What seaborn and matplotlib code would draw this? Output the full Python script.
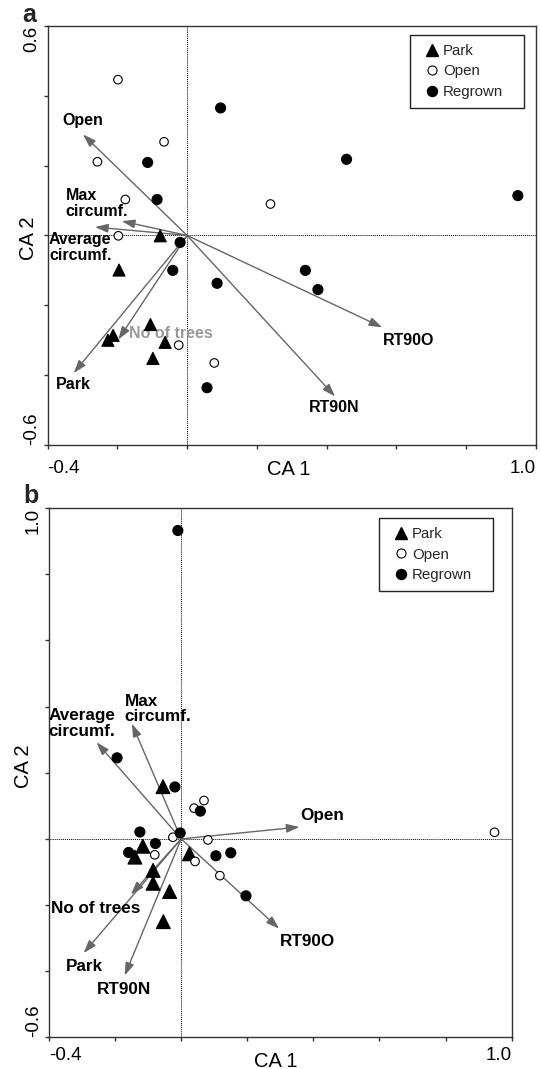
import numpy as np
import pandas as pd
import seaborn as sns
import matplotlib
matplotlib.use("Agg")
import matplotlib.pyplot as plt
from matplotlib.lines import Line2D

# ---- panel a: site scores
a_park_x = [-0.077, -0.195, -0.105, -0.212, -0.227, -0.063, -0.098]
a_park_y = [-0.001, -0.099, -0.255, -0.286, -0.300, -0.306, -0.352]
a_open_x = [-0.198, -0.066, -0.257, -0.177, -0.197, 0.239, -0.024, 0.078]
a_open_y = [0.446, 0.268, 0.211, 0.103, -0.001, 0.090, -0.314, -0.365]
a_regrown_x = [0.096, -0.113, -0.086, 0.457, 0.948, -0.020, -0.041, 0.086, 0.339, 0.375, 0.057]
a_regrown_y = [0.365, 0.209, 0.103, 0.218, 0.114, -0.020, -0.100, -0.137, -0.100, -0.155, -0.436]

# ---- panel a: variable vectors
a_vars = ["Open", "Max\ncircumf.", "Average\ncircumf.", "Park", "No of trees", "RT90O", "RT90N"]
a_vec_x = [-0.298, -0.187, -0.264, -0.325, -0.197, 0.559, 0.424]
a_vec_y = [0.289, 0.041, 0.024, -0.394, -0.298, -0.263, -0.461]
a_lab_x = [-0.357, -0.348, -0.396, -0.375, -0.166, 0.562, 0.348]
a_lab_y = [0.328, 0.092, -0.035, -0.426, -0.281, -0.300, -0.493]

# ---- panel b: site scores
b_park_x = [-0.055, -0.116, -0.140, 0.025, -0.085, -0.085, -0.035, -0.054]
b_park_y = [0.158, -0.022, -0.055, -0.045, -0.095, -0.134, -0.159, -0.250]
b_open_x = [0.948, 0.039, 0.069, -0.025, 0.081, -0.080, 0.042, 0.117]
b_open_y = [0.020, 0.093, 0.116, 0.005, -0.003, -0.048, -0.068, -0.111]
b_regrown_x = [-0.010, -0.194, -0.019, 0.058, -0.003, -0.125, -0.078, -0.159, 0.105, 0.150, 0.196]
b_regrown_y = [0.932, 0.245, 0.157, 0.084, 0.018, 0.021, -0.014, -0.041, -0.051, -0.042, -0.172]

# ---- panel b: variable vectors
b_vars = ["Average\ncircumf.", "Max\ncircumf.", "Open", "No of trees", "Park", "RT90N", "RT90O"]
b_vec_x = [-0.256, -0.149, 0.358, -0.152, -0.295, -0.171, 0.296]
b_vec_y = [0.292, 0.348, 0.036, -0.168, -0.345, -0.413, -0.271]
b_lab_x = [-0.402, -0.171, 0.360, -0.395, -0.350, -0.256, 0.298]
b_lab_y = [0.349, 0.393, 0.070, -0.211, -0.386, -0.454, -0.310]

sites = ["Park", "Open", "Regrown"]


def site_frame(park_x, park_y, open_x, open_y, reg_x, reg_y):
    return pd.DataFrame({
        "CA1": park_x + open_x + reg_x,
        "CA2": park_y + open_y + reg_y,
        "site": ["Park"] * len(park_x) + ["Open"] * len(open_x) + ["Regrown"] * len(reg_x),
    })


sns.set_theme(style="white")
plt.rcParams["font.family"] = ["Liberation Sans", "DejaVu Sans"]

fig = plt.figure(figsize=(5.4, 10.69), dpi=100)
ax_a = fig.add_axes([0.0880, 0.5837, 0.9046, 0.3921])
ax_b = fig.add_axes([0.0907, 0.0295, 0.8569, 0.4953])

GREY = "#666666"


def draw_panel(ax, df, names, vx, vy, lx, ly, lab_colors, lab_size, tri_size,
               ylim, yticklabels, leg_box, xpad, xlab_pos, ylab_pos):
    ax.axhline(0, color="black", lw=0.7, ls=(0, (1, 1)), zorder=1)
    ax.axvline(0, color="black", lw=0.7, ls=(0, (1, 1)), zorder=1)

    # variable vectors from the origin, with their labels
    for name, x, y, tx, ty, c in zip(names, vx, vy, lx, ly, lab_colors):
        ax.annotate("", xy=(x, y), xytext=(0, 0),
                    arrowprops=dict(arrowstyle="-|>,head_length=0.65,head_width=0.22",
                                    color=GREY, lw=1.0, shrinkA=0, shrinkB=0),
                    zorder=2)
        ax.text(tx, ty, name, ha="left", va="center", fontsize=lab_size,
                fontweight="bold", color=c, linespacing=1.05, zorder=3)

    sns.scatterplot(data=df, x="CA1", y="CA2", hue="site", style="site", size="site",
                    hue_order=sites,
                    palette={"Park": "black", "Open": "white", "Regrown": "black"},
                    markers={"Park": "^", "Open": "o", "Regrown": "o"},
                    sizes={"Park": tri_size, "Open": 38, "Regrown": 52},
                    edgecolor="black", linewidth=0.8, legend=False, zorder=4, ax=ax)

    ax.set_xlim(-0.4, 1.0)
    ax.set_ylim(*ylim)
    xt = np.round(np.arange(-0.4, 1.01, 0.2), 1)
    ax.set_xticks(xt)
    ax.set_xticklabels(["-0.4"] + [""] * (len(xt) - 2) + ["1.0"])
    yt = np.round(np.arange(ylim[0], ylim[1] + 0.01, 0.2), 1)
    ax.set_yticks(yt)
    ax.set_yticklabels([yticklabels[0]] + [""] * (len(yt) - 2) + [yticklabels[1]], rotation=90)
    xl = ax.get_xticklabels()
    xl[0].set_ha("left")
    xl[-1].set_ha("right")
    yl = ax.get_yticklabels()
    yl[0].set_va("bottom")
    yl[-1].set_va("top")

    ax.tick_params(axis="both", direction="out", length=3, width=1.0, color="#333333",
                   labelsize=13.5, labelcolor="black")
    ax.tick_params(axis="x", pad=xpad, bottom=True)
    ax.tick_params(axis="y", pad=2, left=True)
    for s in ax.spines.values():
        s.set_color("#333333")
        s.set_linewidth(1.0)

    ax.set_xlabel("CA 1", fontsize=14.5, color="black")
    ax.set_ylabel("CA 2", fontsize=14.5, color="black")
    ax.xaxis.set_label_coords(*xlab_pos)
    ax.yaxis.set_label_coords(*ylab_pos)

    handles = [
        Line2D([], [], ls="none", marker="^", ms=9, mfc="black", mec="black"),
        Line2D([], [], ls="none", marker="o", ms=6.5, mfc="white", mec="black", mew=0.8),
        Line2D([], [], ls="none", marker="o", ms=7.2, mfc="black", mec="black"),
    ]
    leg = ax.legend(handles, sites, loc="upper left", bbox_to_anchor=leg_box,
                    mode="expand", borderaxespad=0, fontsize=10.8, frameon=True,
                    fancybox=False, framealpha=1, edgecolor="#222222",
                    borderpad=0.6, labelspacing=0.43, handlelength=1.8,
                    handletextpad=-0.2)
    leg.get_frame().set_linewidth(1.0)


df_a = site_frame(a_park_x, a_park_y, a_open_x, a_open_y, a_regrown_x, a_regrown_y)
draw_panel(ax_a, df_a, a_vars, a_vec_x, a_vec_y, a_lab_x, a_lab_y,
           ["black", "black", "black", "black", "#999999", "black", "black"], 11.5, 75,
           (-0.6, 0.6), ["-0.6", "0.6"], (0.7416, 0.0, 0.2334, 0.9785), 7.6,
           (0.494, -0.036), (-0.02, 0.493))

df_b = site_frame(b_park_x, b_park_y, b_open_x, b_open_y, b_regrown_x, b_regrown_y)
draw_panel(ax_b, df_b, b_vars, b_vec_x, b_vec_y, b_lab_x, b_lab_y,
           ["black"] * 7, 12.3, 100,
           (-0.6, 1.0), ["-0.6", "1.0"], (0.7128, 0.0, 0.2464, 0.9807), 3.6,
           (0.49, -0.027), (-0.035, 0.513))

fig.text(0.042, 0.9797, "a", fontsize=18, fontweight="bold", ha="left", va="baseline")
fig.text(0.043, 0.5290, "b", fontsize=18, fontweight="bold", ha="left", va="baseline")

fig.savefig("out.png", dpi=100)
